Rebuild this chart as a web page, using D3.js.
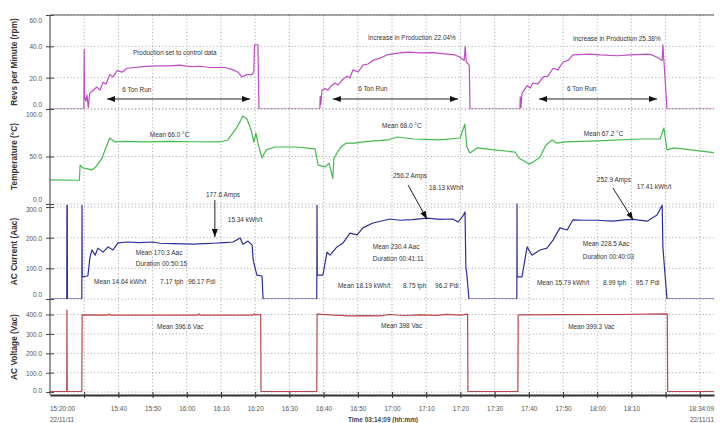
<!DOCTYPE html>
<html>
<head>
<meta charset="utf-8">
<script src="https://cdn.jsdelivr.net/npm/d3@7"></script>
<style>
  body { margin: 0; background: #fff; }
  text { font-family: "Liberation Sans Narrow", "Arial Narrow", "Liberation Sans", Arial, sans-serif; }
</style>
</head>
<body>
<svg id="chart"></svg>
<script>
const width = 720;
const height = 423;

const startTime = new Date(2011, 10, 22, 15, 20, 0);
const endTime = new Date(2011, 10, 22, 18, 34, 9);

// [minutes after 15:20:00, value]
const revs = [
  [0, 0], [9.9, 0], [10.0, 38], [10.1, 8], [10.5, 5], [10.8, 9], [11.2, 1], [11.6, 10], [12.6, 12],
  [13.7, 14], [14.6, 12], [15.5, 17], [16.4, 16], [17.5, 22], [18.4, 20.5], [19.6, 24.5], [21.1, 23.5],
  [22.5, 26], [24.9, 26.5], [27.2, 27], [31, 27.5], [35.1, 27.5], [38, 28], [40.9, 27], [44, 27.3],
  [46.8, 26.5], [51.2, 26.5], [53.5, 25], [55.0, 23.5], [56.1, 20.5], [57.6, 22], [59.1, 22], [59.6, 24],
  [59.8, 41], [60.8, 41], [61.1, 0],
  [78.9, 0], [79.0, 8], [79.2, 3], [79.5, 12], [80.4, 13], [81.3, 12], [81.9, 14], [83.3, 16.6],
  [84.2, 15.3], [85.4, 18.5], [86.8, 21], [87.7, 19.8], [88.6, 25], [90.1, 23.6], [91.5, 28], [93.0, 28.7],
  [94.4, 31], [96.5, 32.5], [98.5, 34.5], [102.3, 35.8], [105, 36.3], [108.2, 35.8], [112, 36], [116.1, 35],
  [118.4, 34.5], [119.9, 33], [121.1, 31], [121.4, 40], [121.7, 30], [122.6, 28], [122.8, 0],
  [137.4, 0], [137.5, 7.7], [137.7, 1], [138.0, 10], [139.5, 15], [140.4, 13.4], [141.2, 16.6], [142.7, 16],
  [144.2, 20.5], [145.6, 21], [147.1, 26], [148.5, 25], [150.0, 30], [151.5, 31], [152.9, 34.5], [157.9, 35],
  [160.8, 34.5], [165.8, 34], [169.6, 34.5], [174.6, 35], [176.0, 34.5], [177.5, 33], [179.0, 31],
  [179.2, 41], [179.5, 31], [180.4, 0], [194.15, 0]
];

const temperature = [
  [0, 25.3], [8.6, 25], [8.8, 41], [9.6, 38], [11, 37], [12.3, 36], [13.4, 39], [15.2, 48], [16.4, 60],
  [17.5, 69.5], [19.0, 65.3], [22, 66], [27.5, 65.3], [35, 66], [42, 65.5], [49.7, 65.3], [52.0, 67.4],
  [54.7, 81], [56.4, 92.6], [57.6, 89.5], [58.8, 78], [59.6, 65], [60.2, 74.7], [60.8, 64], [62.0, 48.4],
  [63.2, 57], [65.8, 60], [71.9, 60], [77.5, 58], [78.4, 41], [80.4, 39], [81.6, 43], [82.7, 27], [83.0, 48],
  [84.8, 59], [86.5, 64], [89.2, 64], [91.5, 65.3], [95, 66.5], [98.8, 67.4], [101.5, 70.5], [106.4, 68.4],
  [113.7, 67.4], [119.9, 69.5], [121.3, 84], [121.9, 60], [122.8, 53.7], [124.9, 59], [130, 57],
  [136.0, 54.7], [137.1, 48.4], [140.1, 42], [141.2, 44], [143.3, 49.5], [145.0, 62], [146.8, 67.4],
  [148.2, 64], [150.6, 65.3], [160, 66.5], [172.8, 68.4], [178.4, 68.4], [179.5, 80], [180.4, 57],
  [182.5, 59], [194.15, 54]
];

const current = [
  [0, 0], [4.9, 0], [4.95, 306], [5.05, 306], [5.1, 0], [9.3, 0], [9.36, 306], [9.42, 72], [11.0, 75],
  [11.1, 78], [11.7, 137], [12.3, 160], [13.2, 143], [14.0, 166], [15.5, 153], [17.0, 170], [18.4, 160],
  [19.9, 183], [22.5, 186], [26, 184], [30.1, 186], [32.2, 182], [36, 181], [41.8, 179], [45, 181],
  [47.7, 182], [51, 184], [53.5, 186], [55.6, 199], [56.4, 179], [57.9, 189], [59.1, 176], [59.4, 127],
  [60.5, 78], [62.0, 75], [62.3, 0],
  [78.0, 0], [78.07, 306], [78.15, 78], [79.8, 78], [81.0, 153], [81.9, 143], [83.9, 170], [85.7, 183],
  [87.7, 215], [89.8, 209], [91.5, 232], [94.4, 248], [99.4, 261], [102.3, 257], [106, 259], [110.2, 264],
  [114, 260], [117.8, 261], [119.3, 251], [120.5, 267], [121.35, 284], [121.6, 104], [121.9, 78], [122.5, 0],
  [136.5, 0], [136.55, 310], [136.6, 72], [138.0, 72], [139.5, 170], [140.9, 143], [143.3, 160],
  [145.3, 166], [147.1, 192], [149.1, 232], [151.2, 225], [152.9, 258], [156, 257], [159.9, 257],
  [164.6, 254], [168, 258], [170.5, 260], [174.6, 254], [177.5, 274], [179.0, 306], [179.2, 170],
  [179.8, 85], [180.4, 0], [194.15, 0]
];

const voltage = [
  [0, 3], [4.9, 3], [4.95, 423], [5.05, 3], [9.3, 3], [9.4, 398], [17, 397], [17.3, 403], [17.6, 397],
  [43.3, 397], [43.6, 404], [43.9, 397], [59.4, 397], [59.7, 404], [60, 398], [61.6, 400], [61.7, 3],
  [78.0, 3], [78.1, 402], [82, 398], [87.7, 393], [92, 394], [96.5, 393], [99, 400], [104, 395],
  [108, 398], [113, 396], [116, 401], [120, 397], [122.1, 402], [122.2, 3],
  [136.8, 3], [136.9, 398], [150, 399], [165, 400], [180.5, 403], [180.6, 3], [194.15, 3]
];

const revsTicks = [0, 20, 40, 60];
const tempTicks = [0, 50, 100];
const currentTicks = [0, 100, 200, 300];
const voltageTicks = [0, 100, 200, 300, 400];

// [panel, minutes, value, text, anchor]
const notes = [
  ["revs", 36.5, 36.4, "Production set to control data", "middle"],
  ["revs", 21.1, 12.8, "6 Ton Run", "start"],
  ["revs", 93.0, 46, "Increase in Production 22.04%", "start"],
  ["revs", 90.1, 13.4, "6 Ton Run", "start"],
  ["revs", 152.9, 45.3, "Increase in Production 25.38%", "start"],
  ["revs", 151.2, 13.4, "6 Ton Run", "start"],
  ["temp", 29.2, 73.7, "Mean 66.0 °C", "start"],
  ["temp", 97.1, 83.2, "Mean 68.0 °C", "start"],
  ["temp", 156.1, 74.7, "Mean 67.2 °C", "start"],
  ["current", 45.6, 342, "177.6 Amps", "start"],
  ["current", 52.0, 261, "15.34 kWh/t", "start"],
  ["current", 25.1, 153, "Mean 170.3 Aac", "start"],
  ["current", 25.1, 117, "Duration 00:50:15", "start"],
  ["current", 12.9, 59, "Mean 14.64 kWh/t", "start"],
  ["current", 32.2, 59, "7.17 tph", "start"],
  ["current", 40.4, 59, "96.17 Pdi", "start"],
  ["current", 100.3, 404, "256.2 Amps", "start"],
  ["current", 110.8, 365, "18.13 kWh/t", "start"],
  ["current", 94.4, 173, "Mean 230.4 Aac", "start"],
  ["current", 94.4, 134, "Duration 00:41:11", "start"],
  ["current", 84.2, 46, "Mean 18.19 kWh/t", "start"],
  ["current", 103.2, 46, "8.75 tph", "start"],
  ["current", 112.6, 46, "96.2 Pdi", "start"],
  ["current", 159.9, 391, "252.9 Amps", "start"],
  ["current", 171.6, 368, "17.41 kWh/t", "start"],
  ["current", 155.8, 183, "Mean 228.5 Aac", "start"],
  ["current", 155.8, 140, "Duration 00:40:03", "start"],
  ["current", 142.4, 55, "Mean 15.79 kWh/t", "start"],
  ["current", 161.7, 55, "8.99 tph", "start"],
  ["current", 171.3, 55, "95.7 Pdi", "start"],
  ["voltage", 31.3, 340, "Mean 396.6 Vac", "start"],
  ["voltage", 96.8, 345, "Mean 398 Vac", "start"],
  ["voltage", 151.5, 340, "Mean 399.3 Vac", "start"]
];

// [panel, from min, from value, to min, to value, both heads]
const arrows = [
  ["revs", 16.7, 6.4, 58.5, 6.4, true],
  ["revs", 82.7, 6.4, 119.3, 6.4, true],
  ["revs", 143.0, 6.4, 177.5, 6.4, true],
  ["current", 48.2, 323, 48.2, 202, false],
  ["current", 104.7, 372, 110.2, 261, false],
  ["current", 164.6, 362, 170.5, 258, false]
];

const left = 50, right = 714;
const squeeze = 0.86; // the original uses a narrow face
const panels = [
  { key: "revs", title: "Revs per Minute (rpm)", data: revs, domain: [0, 60], ticks: revsTicks, color: "#bd4cc4", top: 15, bottom: 109 },
  { key: "temp", title: "Temperature (°C)", data: temperature, domain: [0, 100], ticks: tempTicks, color: "#42ba4c", top: 109, bottom: 204 },
  { key: "current", title: "AC Current (Aac)", data: current, domain: [0, 310], ticks: currentTicks, color: "#2f2f9c", top: 204, bottom: 299 },
  { key: "voltage", title: "AC Voltage (Vac)", data: voltage, domain: [-15, 480], ticks: voltageTicks, color: "#b9474c", top: 299, bottom: 395 }
];
panels.forEach(p => { p.y = d3.scaleLinear().domain(p.domain).range([p.bottom, p.top]); });
const byKey = Object.fromEntries(panels.map(p => [p.key, p]));

const toDate = m => new Date(+startTime + m * 60000);
const x = d3.scaleTime().domain([startTime, endTime]).range([left, right]);

// squeeze text horizontally around its own x
function narrow(sel) {
  sel.each(function () {
    const t = d3.select(this);
    t.attr("x", (+t.attr("x") || 0) / squeeze).attr("transform", `scale(${squeeze},1)`);
  });
}

const svg = d3.select("#chart").attr("width", width).attr("height", height);

const defs = svg.append("defs");
defs.append("marker")
  .attr("id", "head")
  .attr("viewBox", "0 0 8 6")
  .attr("refX", 8).attr("refY", 3)
  .attr("markerWidth", 8).attr("markerHeight", 6)
  .attr("markerUnits", "userSpaceOnUse")
  .attr("orient", "auto-start-reverse")
  .append("path").attr("d", "M0,0L8,3L0,6Z").attr("fill", "#111");

panels.forEach((p, i) => {
  defs.append("clipPath").attr("id", "clip" + i)
    .append("rect").attr("x", left).attr("y", p.top - 1).attr("width", right - left).attr("height", p.bottom - p.top + 1);
});

// vertical grid every 10 minutes
const gridTimes = d3.timeMinute.every(10).range(new Date(+startTime + 1000), endTime);
svg.append("g").selectAll("line").data(gridTimes).join("line")
  .attr("x1", d => x(d)).attr("x2", d => x(d))
  .attr("y1", 15).attr("y2", 395)
  .attr("stroke", "#9a9a9a").attr("stroke-width", 0.8).attr("stroke-dasharray", "1.2,2.2");

panels.forEach((p, i) => {
  // horizontal grid
  svg.append("g").selectAll("line").data(p.ticks).join("line")
    .attr("x1", left).attr("x2", right)
    .attr("y1", d => p.y(d)).attr("y2", d => p.y(d))
    .attr("stroke", "#9a9a9a").attr("stroke-width", 0.8).attr("stroke-dasharray", "1.2,2.2");

  // left axis
  const ax = svg.append("g").attr("transform", `translate(${left},0)`)
    .call(d3.axisLeft(p.y).tickValues(p.ticks).tickFormat(d3.format(".1f")).tickSizeInner(4).tickSizeOuter(0).tickPadding(4));
  ax.select(".domain").remove();
  ax.selectAll(".tick line").attr("x1", 4).attr("x2", -4).attr("stroke", "#444");
  ax.selectAll(".tick text")
    .attr("font-size", 7.5).attr("fill", "#555")
    .attr("y", d => Math.max(p.top + 5, Math.min(p.bottom - 5, p.y(d))) - p.y(d))
    .call(narrow);

  // axis title
  svg.append("text")
    .attr("transform", `translate(14,${(p.top + p.bottom) / 2}) rotate(-90)`)
    .attr("text-anchor", "middle").attr("dy", "0.35em")
    .attr("font-size", 8.3).attr("font-weight", "bold").attr("fill", "#333")
    .style("font-family", "'Liberation Sans', Arial, sans-serif")
    .text(p.title);

  // trace
  const line = d3.line().x(d => x(toDate(d[0]))).y(d => p.y(d[1]));
  svg.append("path")
    .attr("clip-path", `url(#clip${i})`)
    .attr("d", line(p.data))
    .attr("fill", "none").attr("stroke", p.color).attr("stroke-width", 1.2)
    .attr("stroke-linejoin", "round");
});

// frame
svg.append("line").attr("x1", left).attr("x2", right).attr("y1", 15).attr("y2", 15).attr("stroke", "#555").attr("stroke-width", 1.2);
svg.append("line").attr("x1", left).attr("x2", left).attr("y1", 15).attr("y2", 395).attr("stroke", "#555").attr("stroke-width", 1.2);

// bottom axis
const hidden = new Set(["15:30", "18:20", "18:30"]);
const fmt = d3.timeFormat("%H:%M");
const bx = svg.append("g").attr("transform", "translate(0,395)")
  .call(d3.axisBottom(x).tickValues(gridTimes).tickFormat(d => hidden.has(fmt(d)) ? "" : fmt(d)).tickSizeOuter(0).tickSizeInner(3).tickPadding(8));
bx.select(".domain").attr("stroke", "#333").attr("stroke-width", 1.8);
bx.selectAll(".tick line").attr("y1", -3).attr("stroke", "#333");
bx.selectAll(".tick text").attr("font-size", 7.5).attr("fill", "#555").call(narrow);

const footer = [
  [startTime, 411, "15:20:00", "start"],
  [startTime, 422, "22/11/11", "start"],
  [endTime, 411, "18:34:09", "end"],
  [endTime, 422, "22/11/11", "end"]
];
svg.append("g").selectAll("text").data(footer).join("text")
  .attr("x", d => x(d[0]))
  .attr("y", d => d[1])
  .attr("text-anchor", d => d[3])
  .attr("font-size", 7.5).attr("fill", "#555")
  .text(d => d[2])
  .call(narrow);
svg.append("text")
  .attr("x", (x(startTime) + x(endTime)) / 2 + 1).attr("y", 422)
  .attr("text-anchor", "middle").attr("font-size", 7.5).attr("font-weight", "bold").attr("fill", "#444")
  .text("Time 03:14:09 (hh:mm)")
  .call(narrow);

// annotations
svg.append("g").selectAll("text").data(notes).join("text")
  .attr("x", d => x(toDate(d[1])))
  .attr("y", d => byKey[d[0]].y(d[2]))
  .attr("dy", "0.35em")
  .attr("text-anchor", d => d[4])
  .attr("font-size", 7.5).attr("fill", "#333")
  .text(d => d[3])
  .call(narrow);

svg.append("g").selectAll("line").data(arrows).join("line")
  .attr("x1", d => x(toDate(d[1]))).attr("y1", d => byKey[d[0]].y(d[2]))
  .attr("x2", d => x(toDate(d[3]))).attr("y2", d => byKey[d[0]].y(d[4]))
  .attr("stroke", "#222").attr("stroke-width", 1)
  .attr("marker-end", "url(#head)")
  .attr("marker-start", d => d[5] ? "url(#head)" : null);
</script>
</body>
</html>
